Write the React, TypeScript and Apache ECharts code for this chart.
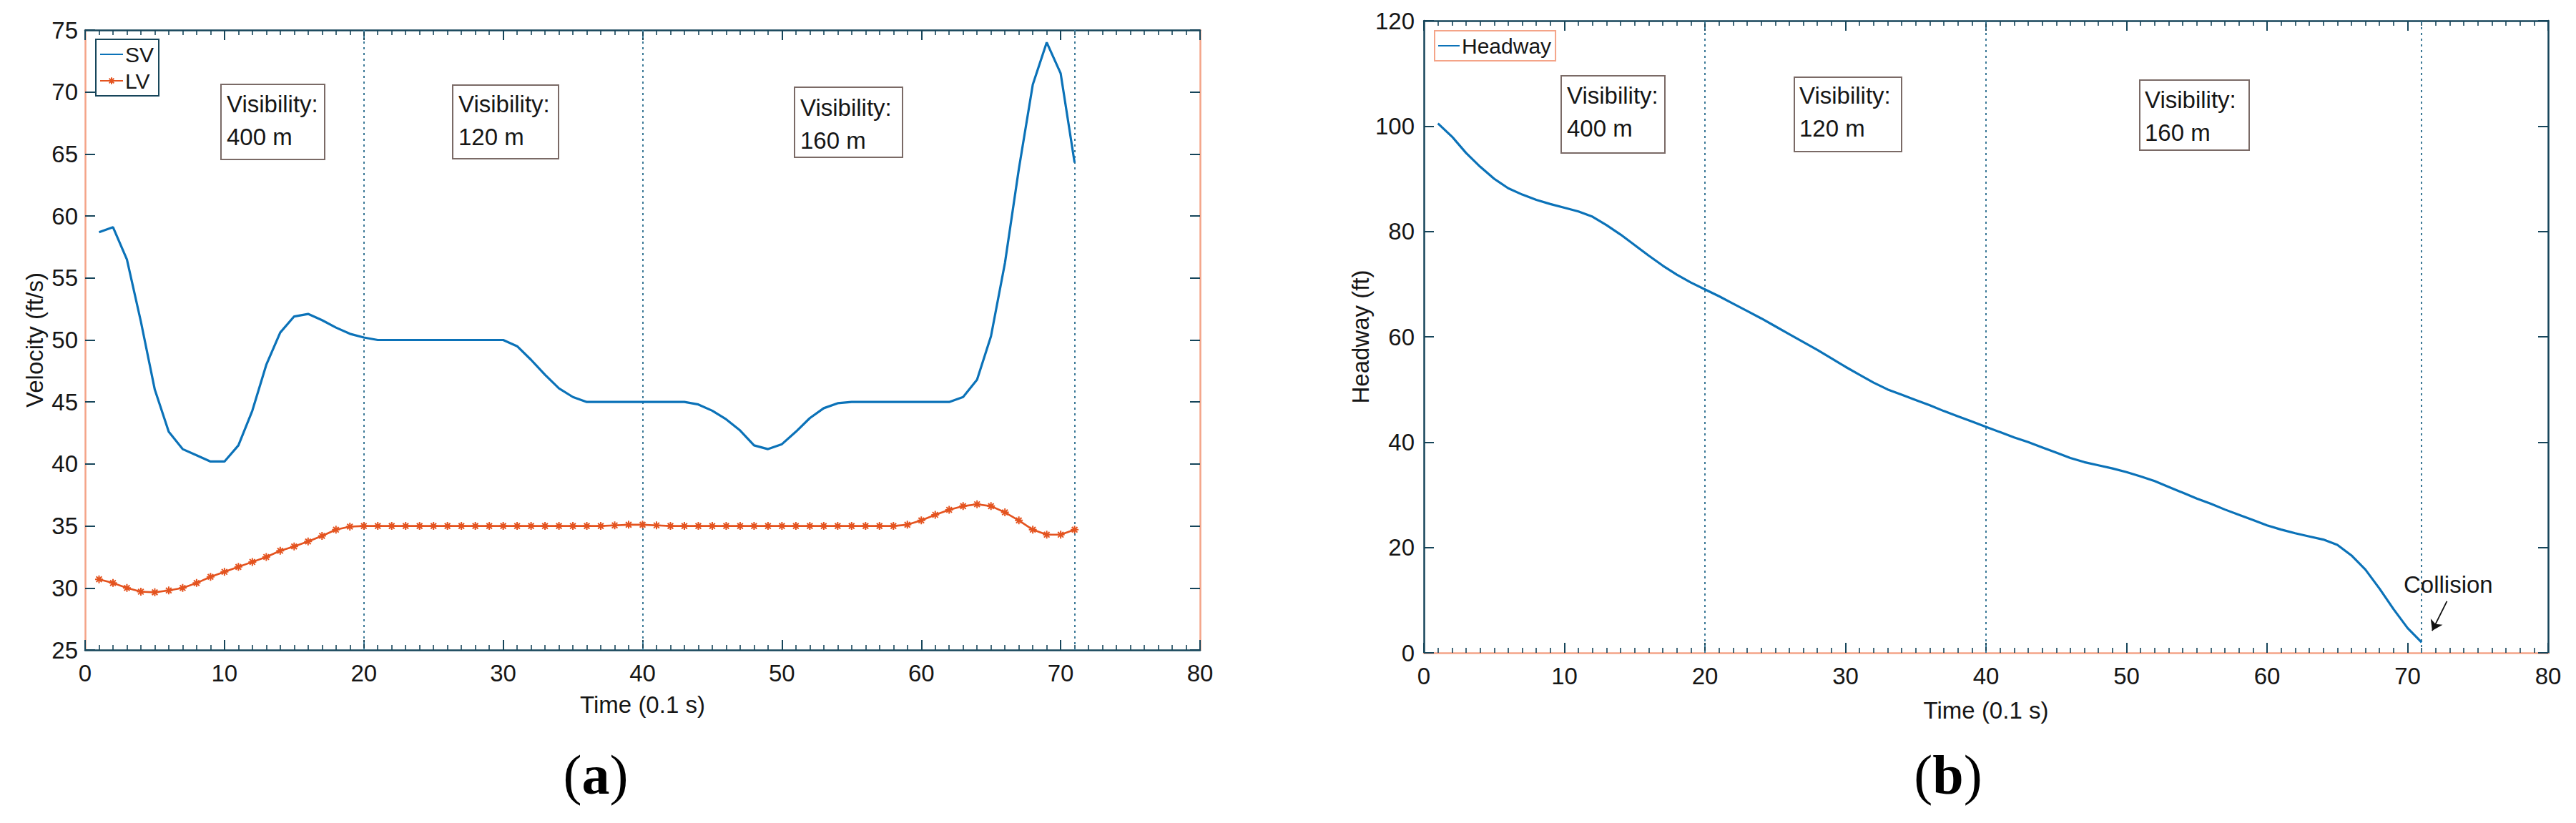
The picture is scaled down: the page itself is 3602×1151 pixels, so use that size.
import React, { useEffect, useRef } from "react";
import * as echarts from "echarts";

const TIME = [
  1, 2, 3, 4, 5, 6, 7, 8, 9, 10, 11, 12, 13, 14, 15, 16, 17, 18, 19, 20,
  21, 22, 23, 24, 25, 26, 27, 28, 29, 30, 31, 32, 33, 34, 35, 36, 37, 38, 39, 40,
  41, 42, 43, 44, 45, 46, 47, 48, 49, 50, 51, 52, 53, 54, 55, 56, 57, 58, 59, 60,
  61, 62, 63, 64, 65, 66, 67, 68, 69, 70, 71,
];

const SV = [
  58.7, 59.1, 56.5, 51.5, 46.0, 42.6, 41.2, 40.7, 40.2, 40.2,
  41.5, 44.3, 48.0, 50.6, 51.9, 52.1, 51.6, 51.0, 50.5, 50.2,
  50.0, 50.0, 50.0, 50.0, 50.0, 50.0, 50.0, 50.0, 50.0, 50.0,
  49.5, 48.4, 47.2, 46.1, 45.4, 45.0, 45.0, 45.0, 45.0, 45.0,
  45.0, 45.0, 45.0, 44.8, 44.3, 43.6, 42.7, 41.5, 41.2, 41.6,
  42.6, 43.7, 44.5, 44.9, 45.0, 45.0, 45.0, 45.0, 45.0, 45.0,
  45.0, 45.0, 45.4, 46.8, 50.3, 56.2, 63.8, 70.6, 74.0, 71.5,
  64.3,
];

const LV = [
  30.7, 30.4, 30.0, 29.7, 29.65, 29.8, 30.0, 30.4, 30.9, 31.3,
  31.7, 32.1, 32.5, 33.0, 33.35, 33.75, 34.2, 34.7, 34.95, 35.0,
  35.0, 35.0, 35.0, 35.0, 35.0, 35.0, 35.0, 35.0, 35.0, 35.0,
  35.0, 35.0, 35.0, 35.0, 35.0, 35.0, 35.0, 35.05, 35.1, 35.1,
  35.05, 35.0, 35.0, 35.0, 35.0, 35.0, 35.0, 35.0, 35.0, 35.0,
  35.0, 35.0, 35.0, 35.0, 35.0, 35.0, 35.0, 35.0, 35.1, 35.45,
  35.9, 36.3, 36.6, 36.75, 36.6, 36.1, 35.45, 34.7, 34.3, 34.3,
  34.7,
];

const HEADWAY = [
  100.5, 98.0, 94.9, 92.3, 90.0, 88.2, 87.0, 86.0, 85.2, 84.5,
  83.8, 82.8, 81.2, 79.4, 77.4, 75.4, 73.5, 71.8, 70.3, 69.0,
  67.7, 66.3, 64.9, 63.5, 62.0, 60.5, 59.0, 57.5, 55.9, 54.3,
  52.8, 51.3, 50.0, 49.0, 48.0, 47.0, 45.9, 44.9, 43.9, 42.9,
  41.9, 40.9, 40.0, 39.0, 38.0, 37.0, 36.2, 35.6, 35.0, 34.3,
  33.5, 32.6, 31.5, 30.4, 29.3, 28.3, 27.2, 26.2, 25.2, 24.2,
  23.4, 22.7, 22.1, 21.5, 20.5, 18.5, 15.8, 12.2, 8.3, 4.7,
  2.0,
];

const VISIBILITY_MARKS = [20, 40, 71];
const VIS_LABELS = ["Visibility:\n400 m", "Visibility:\n120 m", "Visibility:\n160 m"];
const SERIES_NAMES = ["SV", "LV", "Headway"];
const X_TITLE = "Time (0.1 s)";
const Y_TITLE_A = "Velocity (ft/s)";
const Y_TITLE_B = "Headway (ft)";

const FONT = '"Liberation Sans", Arial, Helvetica, sans-serif';
const SERIF = '"Liberation Serif", "Times New Roman", serif';
const DARK = "#16455a";
const SALMON = "#f4a488";
const BLUE = "#0b72b8";
const ORANGE = "#e4531f";
const DOT = "#3a7896";
const TXT = "#161616";
const BOX = "#7a6a66";
const CLEAR = "rgba(0,0,0,0)";

const ASTERISK = "path://M0,5L10,5M5,0L5,10M1.5,1.5L8.5,8.5M1.5,8.5L8.5,1.5";

function xAxisDef(grid: number, position: "top" | "bottom", lineColor: string, withLabels: boolean, nameGap: number) {
  return {
    gridIndex: grid,
    type: "value",
    min: 0,
    max: 80,
    interval: 10,
    position,
    axisLine: { show: true, onZero: false, lineStyle: { color: lineColor, width: 2.5 } },
    axisTick: { show: true, inside: true, length: 14, lineStyle: { color: DARK, width: 2 } },
    minorTick: { show: true, splitNumber: 10, length: 7, lineStyle: { color: DARK, width: 1.6 } },
    splitLine: { show: false },
    minorSplitLine: { show: false },
    axisLabel: withLabels
      ? { show: true, fontSize: 33, color: TXT, fontFamily: FONT, margin: 16 }
      : { show: false },
    name: withLabels ? X_TITLE : "",
    nameLocation: "middle",
    nameGap,
    nameTextStyle: { fontSize: 33, color: TXT, fontFamily: FONT },
  };
}

function yAxisDef(
  grid: number,
  position: "left" | "right",
  min: number,
  max: number,
  interval: number,
  lineColor: string,
  withLabels: boolean,
  name: string,
  nameGap: number,
  labelMargin: number
) {
  return {
    gridIndex: grid,
    type: "value",
    min,
    max,
    interval,
    position,
    axisLine: { show: true, onZero: false, lineStyle: { color: lineColor, width: 2.5 } },
    axisTick: { show: true, inside: true, length: 14, lineStyle: { color: DARK, width: 2 } },
    splitLine: { show: false },
    axisLabel: withLabels
      ? { show: true, fontSize: 33, color: TXT, fontFamily: FONT, margin: labelMargin }
      : { show: false },
    name: withLabels ? name : "",
    nameLocation: "middle",
    nameRotate: 90,
    nameGap,
    nameTextStyle: { fontSize: 33, color: TXT, fontFamily: FONT },
  };
}

function visBox(x: number, y: number, w: number, h: number, tx: number, ty: number, text: string) {
  return [
    {
      type: "rect",
      shape: { x, y, width: w, height: h },
      style: { fill: "#fff", stroke: BOX, lineWidth: 2 },
      z: 50,
    },
    {
      type: "text",
      x: tx,
      y: ty,
      style: {
        text,
        font: `33px ${FONT}`,
        fill: TXT,
        lineHeight: 46,
        align: "left",
        verticalAlign: "top",
      },
      z: 51,
    },
  ];
}

function panelLabel(cx: number, cy: number, letter: string) {
  return {
    type: "text",
    x: cx,
    y: cy,
    style: {
      text: `{p|(}{l|${letter}}{p|)}`,
      align: "center",
      verticalAlign: "middle",
      rich: {
        p: { fontFamily: SERIF, fontSize: 78, fill: "#000", fontWeight: "normal" },
        l: { fontFamily: SERIF, fontSize: 78, fill: "#000", fontWeight: "bold" },
      },
    },
    z: 60,
  };
}

export default function App() {
  const ref = useRef<HTMLDivElement>(null);

  useEffect(() => {
    if (!ref.current) return;
    const chart = echarts.init(ref.current, undefined, { renderer: "svg" });

    const svData = TIME.map((t, i) => [t, SV[i]]);
    const lvData = TIME.map((t, i) => [t, LV[i]]);
    const hwData = TIME.map((t, i) => [t, HEADWAY[i]]);

    const dottedLines = VISIBILITY_MARKS.map((v) => ({ xAxis: v }));

    const option: any = {
      animation: false,
      backgroundColor: "#ffffff",
      textStyle: { fontFamily: FONT },
      grid: [
        { left: 119, top: 42, width: 1559, height: 867, containLabel: false },
        { left: 1991, top: 29, width: 1572, height: 884, containLabel: false },
      ],
      xAxis: [
        xAxisDef(0, "bottom", DARK, true, 60),
        xAxisDef(0, "top", DARK, false, 0),
        xAxisDef(1, "bottom", SALMON, true, 64),
        xAxisDef(1, "top", DARK, false, 0),
      ],
      yAxis: [
        yAxisDef(0, "left", 25, 75, 5, SALMON, true, Y_TITLE_A, 54, 10),
        yAxisDef(0, "right", 25, 75, 5, SALMON, false, "", 0, 0),
        yAxisDef(1, "left", 0, 120, 20, DARK, true, Y_TITLE_B, 72, 13),
        yAxisDef(1, "right", 0, 120, 20, DARK, false, "", 0, 0),
      ],
      legend: [
        {
          data: [
            { name: SERIES_NAMES[0], itemStyle: { color: CLEAR, borderColor: CLEAR, borderWidth: 0 } },
            { name: SERIES_NAMES[1] },
          ],
          orient: "vertical",
          left: 134,
          top: 55,
          padding: [6, 7, 6, 5],
          itemGap: 7,
          itemWidth: 32,
          itemHeight: 12,
          borderColor: DARK,
          borderWidth: 2,
          backgroundColor: "#fff",
          textStyle: { fontSize: 30, color: TXT, fontFamily: FONT, padding: [0, 0, 0, -2] },
        },
        {
          data: [
            { name: SERIES_NAMES[2], itemStyle: { color: CLEAR, borderColor: CLEAR, borderWidth: 0 } },
          ],
          orient: "vertical",
          left: 2006,
          top: 43,
          padding: [6, 6, 6, 4],
          itemWidth: 30,
          itemHeight: 12,
          borderColor: SALMON,
          borderWidth: 2,
          backgroundColor: "#fff",
          textStyle: { fontSize: 30, color: TXT, fontFamily: FONT, padding: [0, 0, 0, -2] },
        },
      ],
      series: [
        {
          name: SERIES_NAMES[0],
          type: "line",
          xAxisIndex: 0,
          yAxisIndex: 0,
          data: svData,
          showSymbol: false,
          symbol: "circle",
          lineStyle: { color: BLUE, width: 3.2 },
          itemStyle: { color: BLUE },
          z: 5,
          markLine: {
            silent: true,
            symbol: ["none", "none"],
            label: { show: false },
            lineStyle: { type: [3, 5], color: DOT, width: 2 },
            data: dottedLines,
            z: 3,
          },
        },
        {
          name: SERIES_NAMES[1],
          type: "line",
          xAxisIndex: 0,
          yAxisIndex: 0,
          data: lvData,
          showSymbol: true,
          symbol: ASTERISK,
          symbolSize: 11,
          lineStyle: { color: ORANGE, width: 2.6 },
          itemStyle: { color: ORANGE, borderColor: ORANGE, borderWidth: 2 },
          z: 6,
        },
        {
          name: SERIES_NAMES[2],
          type: "line",
          xAxisIndex: 2,
          yAxisIndex: 2,
          data: hwData,
          showSymbol: false,
          symbol: "circle",
          lineStyle: { color: BLUE, width: 3.2 },
          itemStyle: { color: BLUE },
          z: 5,
          markLine: {
            silent: true,
            symbol: ["none", "none"],
            label: { show: false },
            lineStyle: { type: [3, 5], color: DOT, width: 2 },
            data: [
              ...dottedLines,
              [
                { coord: [72.8, 9.8], symbol: "none", lineStyle: { type: "solid", color: "#111", width: 1.8 } },
                { coord: [71.75, 4.2], symbol: "arrow", symbolSize: 14 },
              ],
            ],
            z: 3,
          },
        },
      ],
      graphic: [
        ...visBox(309, 118, 145, 105, 317, 122, VIS_LABELS[0]),
        ...visBox(633, 119, 148, 103, 641, 122, VIS_LABELS[1]),
        ...visBox(1111, 122, 151, 98, 1119, 127, VIS_LABELS[2]),
        ...visBox(2183, 106, 145, 108, 2191, 110, VIS_LABELS[0]),
        ...visBox(2509, 108, 150, 104, 2516, 110, VIS_LABELS[1]),
        ...visBox(2992, 112, 153, 98, 2999, 116, VIS_LABELS[2]),
        {
          type: "text",
          x: 3361,
          y: 817,
          style: {
            text: "Collision",
            font: `33px ${FONT}`,
            fill: TXT,
            align: "left",
            verticalAlign: "middle",
          },
          z: 52,
        },
        panelLabel(833, 1083, "a"),
        panelLabel(2724, 1083, "b"),
      ],
    };

    chart.setOption(option);
    return () => {
      chart.dispose();
    };
  }, []);

  return (
    <div
      ref={ref}
      style={{ position: "fixed", left: 0, top: 0, width: 3602, height: 1151, background: "#fff" }}
    />
  );
}
